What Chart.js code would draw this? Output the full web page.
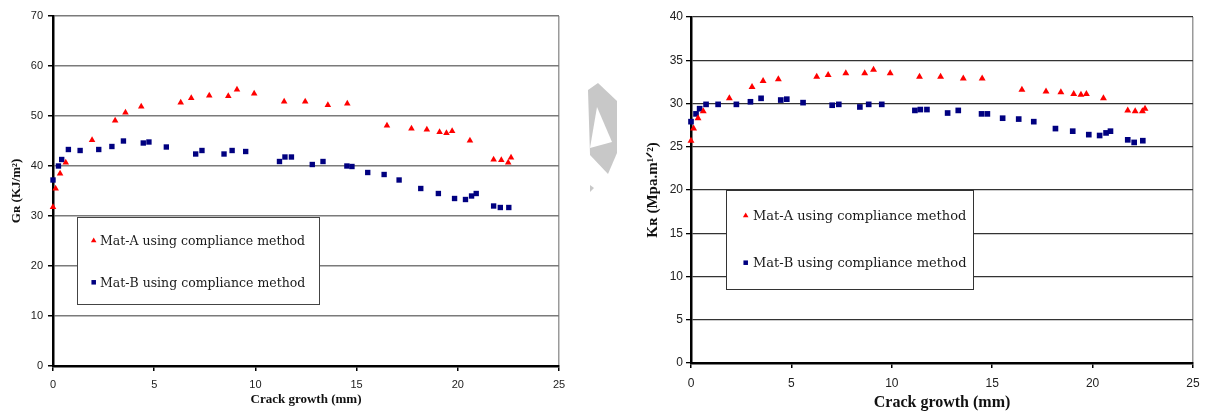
<!DOCTYPE html>
<html>
<head>
<meta charset="utf-8">
<script src="https://cdn.jsdelivr.net/npm/chart.js@4/dist/chart.umd.min.js"></script>
<style>
  html, body { margin: 0; padding: 0; background: #fff; }
  body { width: 1209px; height: 415px; position: relative; overflow: hidden; }
  #c1 { position: absolute; left: 0; top: 0; }
  #c2 { position: absolute; left: 620px; top: 0; }
  #wm { position: absolute; left: 0; top: 0; pointer-events: none; }
</style>
</head>
<body>
<canvas id="c1" width="600" height="415"></canvas>
<canvas id="c2" width="589" height="415"></canvas>
<svg id="wm" width="1209" height="415">
  <polygon points="588,90 598,83 617,101 617,153 608,174 590,155" fill="#c8c8c8"/>
  <polygon points="597,107 612,142 590,148" fill="#ffffff"/>
  <polygon points="590,185 594,188 590,192" fill="#c8c8c8"/>
</svg>
<script>
// ---- Data: G_R chart (left) ----
const seriesNames = ['Mat-A using compliance method', 'Mat-B using compliance method'];
const xTicksMM = [0, 5, 10, 15, 20, 25];

const matA_G_x = [0, 0.13, 0.35, 0.63, 1.93, 3.07, 3.58, 4.36, 6.31, 6.83, 7.72, 8.66, 9.09, 9.94, 11.42, 12.46, 13.58, 14.54, 16.5, 17.71, 18.47, 19.1, 19.44, 19.72, 20.6, 21.77, 22.15, 22.49, 22.63];
const matA_G_y = [31.8, 35.5, 38.5, 40.7, 45.2, 49.1, 50.7, 51.9, 52.7, 53.6, 54.1, 54.0, 55.3, 54.5, 52.9, 52.9, 52.2, 52.5, 48.1, 47.5, 47.3, 46.8, 46.6, 47.0, 45.1, 41.3, 41.2, 40.7, 41.7];
const matB_G_x = [0, 0.27, 0.43, 0.76, 1.34, 2.26, 2.91, 3.48, 4.46, 4.74, 5.6, 7.05, 7.36, 8.45, 8.85, 9.52, 11.19, 11.46, 11.78, 12.81, 13.34, 14.52, 14.77, 15.55, 16.36, 17.1, 18.17, 19.04, 19.84, 20.38, 20.68, 20.91, 21.77, 22.1, 22.52];
const matB_G_y = [37.2, 40.0, 41.3, 43.3, 43.1, 43.3, 43.9, 45.0, 44.6, 44.8, 43.8, 42.4, 43.1, 42.4, 43.1, 42.9, 40.9, 41.8, 41.8, 40.3, 40.9, 40.0, 39.9, 38.7, 38.3, 37.2, 35.5, 34.5, 33.5, 33.3, 34.0, 34.5, 32.0, 31.7, 31.7];

// ---- Data: K_R chart (right) ----
const matA_K_x = [0, 0.13, 0.35, 0.61, 1.91, 3.04, 3.59, 4.35, 6.26, 6.83, 7.71, 8.65, 9.09, 9.92, 11.38, 12.43, 13.56, 14.5, 16.48, 17.68, 18.42, 19.06, 19.42, 19.69, 20.54, 21.75, 22.12, 22.48, 22.61];
const matA_K_y = [25.7, 27.1, 28.3, 29.1, 30.6, 31.9, 32.6, 32.8, 33.1, 33.3, 33.5, 33.5, 33.9, 33.5, 33.1, 33.1, 32.9, 32.9, 31.6, 31.4, 31.3, 31.1, 31.0, 31.1, 30.6, 29.2, 29.1, 29.1, 29.4];
const matB_K_x = [0, 0.25, 0.43, 0.75, 1.35, 2.26, 2.96, 3.49, 4.47, 4.77, 5.58, 7.03, 7.36, 8.41, 8.85, 9.5, 11.15, 11.42, 11.75, 12.78, 13.31, 14.47, 14.76, 15.52, 16.32, 17.07, 18.15, 19.01, 19.81, 20.35, 20.67, 20.89, 21.75, 22.07, 22.5];
const matB_K_y = [27.9, 28.8, 29.4, 29.9, 29.9, 29.9, 30.2, 30.6, 30.4, 30.5, 30.1, 29.8, 29.9, 29.6, 29.9, 29.9, 29.2, 29.3, 29.3, 28.9, 29.2, 28.8, 28.8, 28.3, 28.2, 27.9, 27.1, 26.8, 26.4, 26.3, 26.6, 26.8, 25.8, 25.5, 25.7];

const xTitle = 'Crack growth (mm)';
const yTitleG = 'Gʀ (KJ/m²)';
const yTitleK = 'Kʀ (Mpa.m¹ᐟ²)';

function pts(xs, ys) { return xs.map((x, i) => ({ x: x, y: ys[i] })); }

// Boxed legend drawn inside plot area
const boxLegend = {
  id: 'boxLegend',
  afterDatasetsDraw(chart, args, o) {
    if (!o || !o.box) return;
    const ctx = chart.ctx;
    const b = o.box;
    ctx.save();
    ctx.fillStyle = '#ffffff';
    ctx.fillRect(b.x, b.y, b.w, b.h);
    ctx.strokeStyle = o.borderColor;
    ctx.lineWidth = 1;
    ctx.strokeRect(b.x + 0.5, b.y + 0.5, b.w, b.h);
    ctx.font = o.font;
    ctx.textBaseline = 'middle';
    ctx.fillStyle = '#1a1a1a';
    chart.data.datasets.forEach((ds, i) => {
      const my = o.itemY[i];
      const mx = o.markerX;
      ctx.fillStyle = ds.backgroundColor;
      const r = o.markerR;
      ctx.beginPath();
      if (ds.pointStyle === 'triangle') {
        ctx.moveTo(mx, my - r);
        ctx.lineTo(mx + r * 0.866, my + r * 0.5);
        ctx.lineTo(mx - r * 0.866, my + r * 0.5);
        ctx.closePath();
        ctx.fill();
      } else {
        const s = r * Math.SQRT1_2;
        ctx.fillRect(mx - s, my - s, 2 * s, 2 * s);
      }
      ctx.fillStyle = '#1a1a1a';
      ctx.fillText(ds.label, o.textX, my + 1);
    });
    ctx.restore();
  }
};

function makeChart(id, cfg) {
  return new Chart(document.getElementById(id), {
    type: 'scatter',
    data: {
      datasets: [
        { label: seriesNames[0], data: pts(cfg.ax, cfg.ay), pointStyle: 'triangle', pointRadius: cfg.r, pointHoverRadius: cfg.r,
          backgroundColor: '#ff0000', borderWidth: 0, pointBorderWidth: 0, clip: false },
        { label: seriesNames[1], data: pts(cfg.bx, cfg.by), pointStyle: 'rect', pointRadius: cfg.r, pointHoverRadius: cfg.r,
          backgroundColor: '#000080', borderWidth: 0, pointBorderWidth: 0, clip: false }
      ]
    },
    options: {
      responsive: false,
      animation: false,
      devicePixelRatio: 1,
      layout: { padding: cfg.pad },
      plugins: {
        legend: { display: false },
        tooltip: { enabled: false },
        boxLegend: cfg.legend
      },
      scales: {
        x: {
          type: 'linear', min: 0, max: 25,
          afterBuildTicks: (s) => { s.ticks = xTicksMM.map(v => ({ value: v })); },
          afterFit: (s) => { s.height = cfg.xH; },
          border: { display: true, color: '#000', width: 2.5 },
          grid: {
            drawOnChartArea: true, drawTicks: true, tickLength: 5, tickColor: '#000', lineWidth: 1.5,
            color: (c) => (c.tick && c.tick.value === 25) ? cfg.rightBorder : 'rgba(0,0,0,0)'
          },
          ticks: { padding: cfg.xTickPad, color: '#222', font: { family: 'Liberation Sans, Arial', size: cfg.tickSize }, maxRotation: 0 },
          title: { display: true, text: xTitle, color: '#111', font: { family: 'Liberation Serif, Times New Roman', size: cfg.xTitleSize, weight: 'bold' }, padding: { top: 0, bottom: cfg.xTitlePadB } }
        },
        y: {
          type: 'linear', min: 0, max: cfg.yMax,
          ticks: { stepSize: cfg.yStep, padding: cfg.yTickPad, color: '#222', font: { family: 'Liberation Sans, Arial', size: cfg.tickSize } },
          afterFit: (s) => { s.width = cfg.yW; },
          border: { display: true, color: '#000', width: 2.5 },
          grid: { drawOnChartArea: true, drawTicks: true, tickLength: 5, tickColor: '#000', color: cfg.gridColor, lineWidth: cfg.gridW },
          title: { display: true, text: cfg.yTitle, color: '#111', font: { family: 'Liberation Serif, Times New Roman', size: cfg.yTitleSize, weight: 'bold' }, padding: { top: cfg.yTitlePadT, bottom: 0 } }
        }
      }
    },
    plugins: [boxLegend]
  });
}

makeChart('c1', {
  ax: matA_G_x, ay: matA_G_y, bx: matB_G_x, by: matB_G_y,
  r: 3.8, yMax: 70, yStep: 10, yTitle: yTitleG,
  pad: { top: 16, right: 41, left: 0, bottom: 0 },
  yW: 53, xH: 49, tickSize: 11, xTickPad: 7, yTickPad: 5,
  xTitleSize: 13, xTitlePadB: 8, yTitleSize: 13, yTitlePadT: 9,
  gridColor: '#7a7a7a', gridW: 1.5, rightBorder: '#9a9a9a',
  legend: { box: { x: 77, y: 217, w: 242, h: 87 }, borderColor: '#444', font: '12.5px "DejaVu Serif", serif',
            markerX: 93.7, markerR: 3.2, textX: 100, itemY: [240.7, 282.3] }
});

makeChart('c2', {
  ax: matA_K_x, ay: matA_K_y, bx: matB_K_x, by: matB_K_y,
  r: 4, yMax: 40, yStep: 5, yTitle: yTitleK,
  pad: { top: 17, right: 16, left: 0, bottom: 0 },
  yW: 71, xH: 52, tickSize: 12, xTickPad: 8, yTickPad: 3,
  xTitleSize: 16, xTitlePadB: 3, yTitleSize: 15, yTitlePadT: 24,
  gridColor: '#333333', gridW: 1.3, rightBorder: '#9a9a9a',
  legend: { box: { x: 106, y: 190, w: 247, h: 99 }, borderColor: '#333', font: '13px "DejaVu Serif", serif',
            markerX: 125.7, markerR: 3.2, textX: 133, itemY: [215.7, 262.7] }
});
</script>
</body>
</html>
